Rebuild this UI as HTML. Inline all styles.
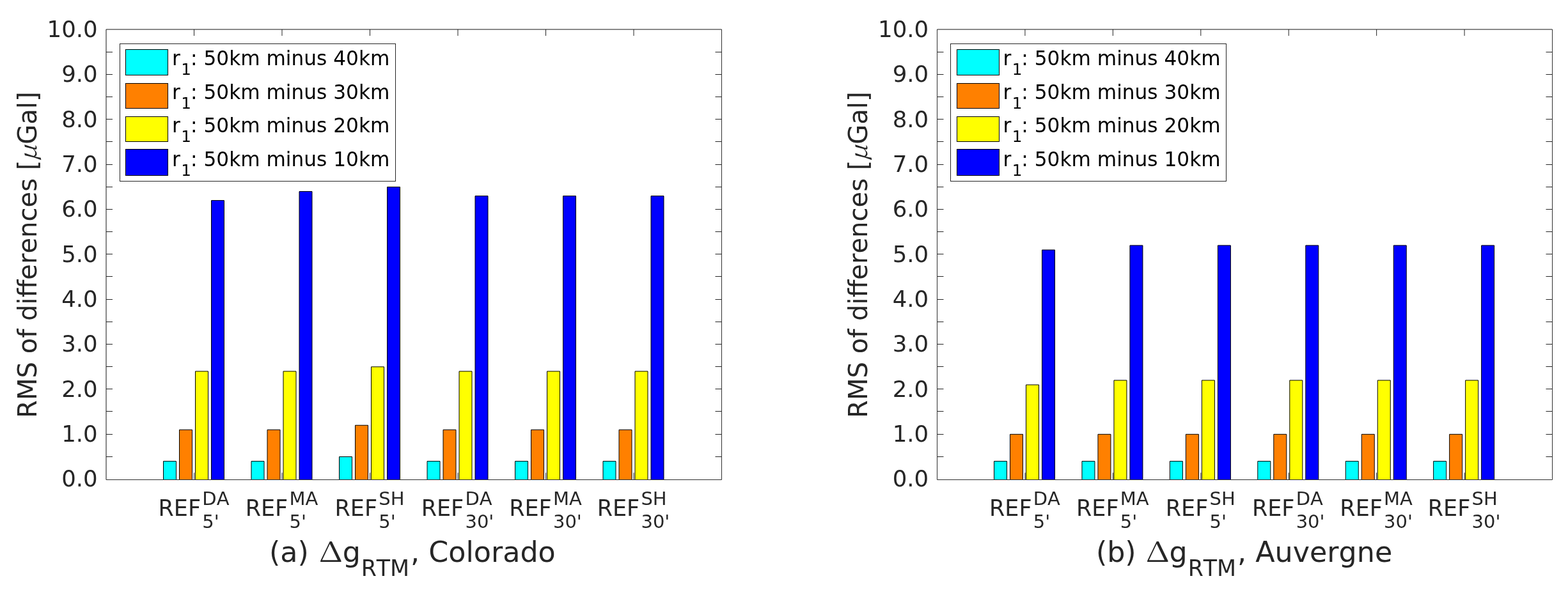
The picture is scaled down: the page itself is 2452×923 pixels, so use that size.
<!DOCTYPE html>
<html><head><meta charset="utf-8"><title>RMS of differences</title><style>
html,body{margin:0;padding:0;background:#fff;}
svg{display:block;}
text{font-kerning:none;white-space:pre;}
</style></head><body>
<svg width="2452" height="923" viewBox="0 0 2452 923">
<rect width="2452" height="923" fill="#fff"/>
<rect x="255.50" y="721.56" width="20" height="28.94" fill="#00ffff"/>
<path d="M255.50 750.50V721.56H275.50V750.50" fill="none" stroke="#000" stroke-width="1"/>
<rect x="393.00" y="721.56" width="20" height="28.94" fill="#00ffff"/>
<path d="M393.00 750.50V721.56H413.00V750.50" fill="none" stroke="#000" stroke-width="1"/>
<rect x="530.50" y="714.53" width="20" height="35.97" fill="#00ffff"/>
<path d="M530.50 750.50V714.53H550.50V750.50" fill="none" stroke="#000" stroke-width="1"/>
<rect x="668.00" y="721.56" width="20" height="28.94" fill="#00ffff"/>
<path d="M668.00 750.50V721.56H688.00V750.50" fill="none" stroke="#000" stroke-width="1"/>
<rect x="805.50" y="721.56" width="20" height="28.94" fill="#00ffff"/>
<path d="M805.50 750.50V721.56H825.50V750.50" fill="none" stroke="#000" stroke-width="1"/>
<rect x="943.00" y="721.56" width="20" height="28.94" fill="#00ffff"/>
<path d="M943.00 750.50V721.56H963.00V750.50" fill="none" stroke="#000" stroke-width="1"/>
<rect x="280.50" y="672.33" width="20" height="78.17" fill="#ff8000"/>
<path d="M280.50 750.50V672.33H300.50V750.50" fill="none" stroke="#000" stroke-width="1"/>
<rect x="418.00" y="672.33" width="20" height="78.17" fill="#ff8000"/>
<path d="M418.00 750.50V672.33H438.00V750.50" fill="none" stroke="#000" stroke-width="1"/>
<rect x="555.50" y="665.29" width="20" height="85.21" fill="#ff8000"/>
<path d="M555.50 750.50V665.29H575.50V750.50" fill="none" stroke="#000" stroke-width="1"/>
<rect x="693.00" y="672.33" width="20" height="78.17" fill="#ff8000"/>
<path d="M693.00 750.50V672.33H713.00V750.50" fill="none" stroke="#000" stroke-width="1"/>
<rect x="830.50" y="672.33" width="20" height="78.17" fill="#ff8000"/>
<path d="M830.50 750.50V672.33H850.50V750.50" fill="none" stroke="#000" stroke-width="1"/>
<rect x="968.00" y="672.33" width="20" height="78.17" fill="#ff8000"/>
<path d="M968.00 750.50V672.33H988.00V750.50" fill="none" stroke="#000" stroke-width="1"/>
<rect x="305.50" y="580.88" width="20" height="169.62" fill="#ffff00"/>
<path d="M305.50 750.50V580.88H325.50V750.50" fill="none" stroke="#000" stroke-width="1"/>
<rect x="443.00" y="580.88" width="20" height="169.62" fill="#ffff00"/>
<path d="M443.00 750.50V580.88H463.00V750.50" fill="none" stroke="#000" stroke-width="1"/>
<rect x="580.50" y="573.85" width="20" height="176.65" fill="#ffff00"/>
<path d="M580.50 750.50V573.85H600.50V750.50" fill="none" stroke="#000" stroke-width="1"/>
<rect x="718.00" y="580.88" width="20" height="169.62" fill="#ffff00"/>
<path d="M718.00 750.50V580.88H738.00V750.50" fill="none" stroke="#000" stroke-width="1"/>
<rect x="855.50" y="580.88" width="20" height="169.62" fill="#ffff00"/>
<path d="M855.50 750.50V580.88H875.50V750.50" fill="none" stroke="#000" stroke-width="1"/>
<rect x="993.00" y="580.88" width="20" height="169.62" fill="#ffff00"/>
<path d="M993.00 750.50V580.88H1013.00V750.50" fill="none" stroke="#000" stroke-width="1"/>
<rect x="330.50" y="313.59" width="20" height="436.91" fill="#0000ff"/>
<path d="M330.50 750.50V313.59H350.50V750.50" fill="none" stroke="#000" stroke-width="1"/>
<rect x="468.00" y="299.52" width="20" height="450.98" fill="#0000ff"/>
<path d="M468.00 750.50V299.52H488.00V750.50" fill="none" stroke="#000" stroke-width="1"/>
<rect x="605.50" y="292.49" width="20" height="458.01" fill="#0000ff"/>
<path d="M605.50 750.50V292.49H625.50V750.50" fill="none" stroke="#000" stroke-width="1"/>
<rect x="743.00" y="306.56" width="20" height="443.94" fill="#0000ff"/>
<path d="M743.00 750.50V306.56H763.00V750.50" fill="none" stroke="#000" stroke-width="1"/>
<rect x="880.50" y="306.56" width="20" height="443.94" fill="#0000ff"/>
<path d="M880.50 750.50V306.56H900.50V750.50" fill="none" stroke="#000" stroke-width="1"/>
<rect x="1018.00" y="306.56" width="20" height="443.94" fill="#0000ff"/>
<path d="M1018.00 750.50V306.56H1038.00V750.50" fill="none" stroke="#000" stroke-width="1"/>
<path d="M166.00 714.50h10M1128.50 714.50h-10M166.00 679.50h10M1128.50 679.50h-10M166.00 643.50h10M1128.50 643.50h-10M166.00 608.50h10M1128.50 608.50h-10M166.00 573.50h10M1128.50 573.50h-10M166.00 538.50h10M1128.50 538.50h-10M166.00 503.50h10M1128.50 503.50h-10M166.00 468.50h10M1128.50 468.50h-10M166.00 432.50h10M1128.50 432.50h-10M166.00 397.50h10M1128.50 397.50h-10M166.00 362.50h10M1128.50 362.50h-10M166.00 327.50h10M1128.50 327.50h-10M166.00 292.50h10M1128.50 292.50h-10M166.00 257.50h10M1128.50 257.50h-10M166.00 221.50h10M1128.50 221.50h-10M166.00 186.50h10M1128.50 186.50h-10M166.00 151.50h10M1128.50 151.50h-10M166.00 116.50h10M1128.50 116.50h-10M166.00 81.50h10M1128.50 81.50h-10M303.50 750.50v-11M303.50 46.00v10M441.00 750.50v-11M441.00 46.00v10M578.50 750.50v-11M578.50 46.00v10M716.00 750.50v-11M716.00 46.00v10M853.50 750.50v-11M853.50 46.00v10M991.00 750.50v-11M991.00 46.00v10" stroke="#262626" stroke-width="1" fill="none"/>
<path d="M166.0 750.5V46.0" stroke="#141414" stroke-width="1" fill="none"/>
<path d="M166.0 46.0H1128.5" stroke="#141414" stroke-width="1" fill="none"/>
<path d="M1128.5 46.0V750.5H166.0" stroke="#303030" stroke-width="1" fill="none"/>
<text x="152.75" y="761.00" font-size="35.6" fill="#262626" font-family="'DejaVu Sans', 'Liberation Sans', sans-serif" text-anchor="end">0.0</text>
<text x="152.75" y="691.00" font-size="35.6" fill="#262626" font-family="'DejaVu Sans', 'Liberation Sans', sans-serif" text-anchor="end">1.0</text>
<text x="152.75" y="621.00" font-size="35.6" fill="#262626" font-family="'DejaVu Sans', 'Liberation Sans', sans-serif" text-anchor="end">2.0</text>
<text x="152.75" y="550.00" font-size="35.6" fill="#262626" font-family="'DejaVu Sans', 'Liberation Sans', sans-serif" text-anchor="end">3.0</text>
<text x="152.75" y="480.00" font-size="35.6" fill="#262626" font-family="'DejaVu Sans', 'Liberation Sans', sans-serif" text-anchor="end">4.0</text>
<text x="152.75" y="410.00" font-size="35.6" fill="#262626" font-family="'DejaVu Sans', 'Liberation Sans', sans-serif" text-anchor="end">5.0</text>
<text x="152.75" y="339.00" font-size="35.6" fill="#262626" font-family="'DejaVu Sans', 'Liberation Sans', sans-serif" text-anchor="end">6.0</text>
<text x="152.75" y="269.00" font-size="35.6" fill="#262626" font-family="'DejaVu Sans', 'Liberation Sans', sans-serif" text-anchor="end">7.0</text>
<text x="152.75" y="199.00" font-size="35.6" fill="#262626" font-family="'DejaVu Sans', 'Liberation Sans', sans-serif" text-anchor="end">8.0</text>
<text x="152.75" y="128.00" font-size="35.6" fill="#262626" font-family="'DejaVu Sans', 'Liberation Sans', sans-serif" text-anchor="end">9.0</text>
<text x="152.75" y="58.00" font-size="35.6" fill="#262626" font-family="'DejaVu Sans', 'Liberation Sans', sans-serif" text-anchor="end">10.0</text>
<text x="247.53" y="807.30" font-size="35" fill="#262626" font-family="'DejaVu Sans', 'Liberation Sans', sans-serif" >REF</text>
<text x="316.30" y="790.10" font-size="29" fill="#262626" font-family="'DejaVu Sans', 'Liberation Sans', sans-serif" >DA</text>
<text x="316.30" y="826.00" font-size="29" fill="#262626" font-family="'DejaVu Sans', 'Liberation Sans', sans-serif" >5&#39;</text>
<text x="383.69" y="807.30" font-size="35" fill="#262626" font-family="'DejaVu Sans', 'Liberation Sans', sans-serif" >REF</text>
<text x="452.45" y="790.10" font-size="29" fill="#262626" font-family="'DejaVu Sans', 'Liberation Sans', sans-serif" >MA</text>
<text x="452.45" y="826.00" font-size="29" fill="#262626" font-family="'DejaVu Sans', 'Liberation Sans', sans-serif" >5&#39;</text>
<text x="523.51" y="807.30" font-size="35" fill="#262626" font-family="'DejaVu Sans', 'Liberation Sans', sans-serif" >REF</text>
<text x="592.28" y="790.10" font-size="29" fill="#262626" font-family="'DejaVu Sans', 'Liberation Sans', sans-serif" >SH</text>
<text x="592.28" y="826.00" font-size="29" fill="#262626" font-family="'DejaVu Sans', 'Liberation Sans', sans-serif" >5&#39;</text>
<text x="658.68" y="807.30" font-size="35" fill="#262626" font-family="'DejaVu Sans', 'Liberation Sans', sans-serif" >REF</text>
<text x="727.45" y="790.10" font-size="29" fill="#262626" font-family="'DejaVu Sans', 'Liberation Sans', sans-serif" >DA</text>
<text x="727.45" y="826.00" font-size="29" fill="#262626" font-family="'DejaVu Sans', 'Liberation Sans', sans-serif" >30&#39;</text>
<text x="796.18" y="807.30" font-size="35" fill="#262626" font-family="'DejaVu Sans', 'Liberation Sans', sans-serif" >REF</text>
<text x="864.95" y="790.10" font-size="29" fill="#262626" font-family="'DejaVu Sans', 'Liberation Sans', sans-serif" >MA</text>
<text x="864.95" y="826.00" font-size="29" fill="#262626" font-family="'DejaVu Sans', 'Liberation Sans', sans-serif" >30&#39;</text>
<text x="933.68" y="807.30" font-size="35" fill="#262626" font-family="'DejaVu Sans', 'Liberation Sans', sans-serif" >REF</text>
<text x="1002.45" y="790.10" font-size="29" fill="#262626" font-family="'DejaVu Sans', 'Liberation Sans', sans-serif" >SH</text>
<text x="1002.45" y="826.00" font-size="29" fill="#262626" font-family="'DejaVu Sans', 'Liberation Sans', sans-serif" >30&#39;</text>
<g transform="translate(56.90,653.88) rotate(-90)">
<text x="0.00" y="0.00" font-size="40.1" fill="#262626" font-family="'DejaVu Sans', 'Liberation Sans', sans-serif" >RMS of differences [</text>
<text x="0.00" y="0.00" font-size="35.5" fill="#262626" font-family="'Noto Serif CJK SC', 'Liberation Serif', serif" font-style="italic" transform="translate(401.63,0) scale(1.13,1)">μ</text>
<text x="428.03" y="0.00" font-size="40.1" fill="#262626" font-family="'DejaVu Sans', 'Liberation Sans', sans-serif" >Gal]</text>
</g>
<text x="420.93" y="878.60" font-size="44.4" fill="#262626" font-family="'DejaVu Sans', 'Liberation Sans', sans-serif" >(a) </text>
<text x="398.84" y="878.60" font-size="44.0" fill="#262626" font-family="'Noto Serif CJK SC', 'Liberation Serif', serif" transform="scale(1.25,1)">Δ</text>
<text x="535.66" y="878.60" font-size="44.4" fill="#262626" font-family="'DejaVu Sans', 'Liberation Sans', sans-serif" >g</text>
<text x="564.69" y="901.20" font-size="34.8" fill="#262626" font-family="'DejaVu Sans', 'Liberation Sans', sans-serif" >RTM</text>
<text x="642.07" y="878.60" font-size="44.4" fill="#262626" font-family="'DejaVu Sans', 'Liberation Sans', sans-serif" >, Colorado</text>
<rect x="187.5" y="68.5" width="431.0" height="215.0" fill="#fff" stroke="#262626" stroke-width="1"/>
<rect x="196.5" y="77.5" width="66" height="40.0" fill="#00ffff" stroke="#000" stroke-width="1"/>
<text x="269.10" y="102.00" font-size="31.2" fill="#000" font-family="'DejaVu Sans', 'Liberation Sans', sans-serif" >r</text>
<text x="283.33" y="117.00" font-size="24.7" fill="#000" font-family="'DejaVu Sans', 'Liberation Sans', sans-serif" >1</text>
<text x="298.04" y="102.00" font-size="31.2" fill="#000" font-family="'DejaVu Sans', 'Liberation Sans', sans-serif" >: 50km minus 40km</text>
<rect x="196.5" y="130.5" width="66" height="39.0" fill="#ff8000" stroke="#000" stroke-width="1"/>
<text x="269.10" y="154.50" font-size="31.2" fill="#000" font-family="'DejaVu Sans', 'Liberation Sans', sans-serif" >r</text>
<text x="283.33" y="169.50" font-size="24.7" fill="#000" font-family="'DejaVu Sans', 'Liberation Sans', sans-serif" >1</text>
<text x="298.04" y="154.50" font-size="31.2" fill="#000" font-family="'DejaVu Sans', 'Liberation Sans', sans-serif" >: 50km minus 30km</text>
<rect x="196.5" y="182.5" width="66" height="39.0" fill="#ffff00" stroke="#000" stroke-width="1"/>
<text x="269.10" y="207.00" font-size="31.2" fill="#000" font-family="'DejaVu Sans', 'Liberation Sans', sans-serif" >r</text>
<text x="283.33" y="222.00" font-size="24.7" fill="#000" font-family="'DejaVu Sans', 'Liberation Sans', sans-serif" >1</text>
<text x="298.04" y="207.00" font-size="31.2" fill="#000" font-family="'DejaVu Sans', 'Liberation Sans', sans-serif" >: 50km minus 20km</text>
<rect x="196.5" y="233.5" width="66" height="41.0" fill="#0000ff" stroke="#000" stroke-width="1"/>
<text x="269.10" y="259.50" font-size="31.2" fill="#000" font-family="'DejaVu Sans', 'Liberation Sans', sans-serif" >r</text>
<text x="283.33" y="274.50" font-size="24.7" fill="#000" font-family="'DejaVu Sans', 'Liberation Sans', sans-serif" >1</text>
<text x="298.04" y="259.50" font-size="31.2" fill="#000" font-family="'DejaVu Sans', 'Liberation Sans', sans-serif" >: 50km minus 10km</text>
<rect x="1554.53" y="721.56" width="20" height="28.94" fill="#00ffff"/>
<path d="M1554.53 750.50V721.56H1574.53V750.50" fill="none" stroke="#000" stroke-width="1"/>
<rect x="1691.96" y="721.56" width="20" height="28.94" fill="#00ffff"/>
<path d="M1691.96 750.50V721.56H1711.96V750.50" fill="none" stroke="#000" stroke-width="1"/>
<rect x="1829.39" y="721.56" width="20" height="28.94" fill="#00ffff"/>
<path d="M1829.39 750.50V721.56H1849.39V750.50" fill="none" stroke="#000" stroke-width="1"/>
<rect x="1966.81" y="721.56" width="20" height="28.94" fill="#00ffff"/>
<path d="M1966.81 750.50V721.56H1986.81V750.50" fill="none" stroke="#000" stroke-width="1"/>
<rect x="2104.24" y="721.56" width="20" height="28.94" fill="#00ffff"/>
<path d="M2104.24 750.50V721.56H2124.24V750.50" fill="none" stroke="#000" stroke-width="1"/>
<rect x="2241.67" y="721.56" width="20" height="28.94" fill="#00ffff"/>
<path d="M2241.67 750.50V721.56H2261.67V750.50" fill="none" stroke="#000" stroke-width="1"/>
<rect x="1579.53" y="679.36" width="20" height="71.14" fill="#ff8000"/>
<path d="M1579.53 750.50V679.36H1599.53V750.50" fill="none" stroke="#000" stroke-width="1"/>
<rect x="1716.96" y="679.36" width="20" height="71.14" fill="#ff8000"/>
<path d="M1716.96 750.50V679.36H1736.96V750.50" fill="none" stroke="#000" stroke-width="1"/>
<rect x="1854.39" y="679.36" width="20" height="71.14" fill="#ff8000"/>
<path d="M1854.39 750.50V679.36H1874.39V750.50" fill="none" stroke="#000" stroke-width="1"/>
<rect x="1991.81" y="679.36" width="20" height="71.14" fill="#ff8000"/>
<path d="M1991.81 750.50V679.36H2011.81V750.50" fill="none" stroke="#000" stroke-width="1"/>
<rect x="2129.24" y="679.36" width="20" height="71.14" fill="#ff8000"/>
<path d="M2129.24 750.50V679.36H2149.24V750.50" fill="none" stroke="#000" stroke-width="1"/>
<rect x="2266.67" y="679.36" width="20" height="71.14" fill="#ff8000"/>
<path d="M2266.67 750.50V679.36H2286.67V750.50" fill="none" stroke="#000" stroke-width="1"/>
<rect x="1604.53" y="601.99" width="20" height="148.51" fill="#ffff00"/>
<path d="M1604.53 750.50V601.99H1624.53V750.50" fill="none" stroke="#000" stroke-width="1"/>
<rect x="1741.96" y="594.95" width="20" height="155.55" fill="#ffff00"/>
<path d="M1741.96 750.50V594.95H1761.96V750.50" fill="none" stroke="#000" stroke-width="1"/>
<rect x="1879.39" y="594.95" width="20" height="155.55" fill="#ffff00"/>
<path d="M1879.39 750.50V594.95H1899.39V750.50" fill="none" stroke="#000" stroke-width="1"/>
<rect x="2016.81" y="594.95" width="20" height="155.55" fill="#ffff00"/>
<path d="M2016.81 750.50V594.95H2036.81V750.50" fill="none" stroke="#000" stroke-width="1"/>
<rect x="2154.24" y="594.95" width="20" height="155.55" fill="#ffff00"/>
<path d="M2154.24 750.50V594.95H2174.24V750.50" fill="none" stroke="#000" stroke-width="1"/>
<rect x="2291.67" y="594.95" width="20" height="155.55" fill="#ffff00"/>
<path d="M2291.67 750.50V594.95H2311.67V750.50" fill="none" stroke="#000" stroke-width="1"/>
<rect x="1629.53" y="390.97" width="20" height="359.53" fill="#0000ff"/>
<path d="M1629.53 750.50V390.97H1649.53V750.50" fill="none" stroke="#000" stroke-width="1"/>
<rect x="1766.96" y="383.93" width="20" height="366.57" fill="#0000ff"/>
<path d="M1766.96 750.50V383.93H1786.96V750.50" fill="none" stroke="#000" stroke-width="1"/>
<rect x="1904.39" y="383.93" width="20" height="366.57" fill="#0000ff"/>
<path d="M1904.39 750.50V383.93H1924.39V750.50" fill="none" stroke="#000" stroke-width="1"/>
<rect x="2041.81" y="383.93" width="20" height="366.57" fill="#0000ff"/>
<path d="M2041.81 750.50V383.93H2061.81V750.50" fill="none" stroke="#000" stroke-width="1"/>
<rect x="2179.24" y="383.93" width="20" height="366.57" fill="#0000ff"/>
<path d="M2179.24 750.50V383.93H2199.24V750.50" fill="none" stroke="#000" stroke-width="1"/>
<rect x="2316.67" y="383.93" width="20" height="366.57" fill="#0000ff"/>
<path d="M2316.67 750.50V383.93H2336.67V750.50" fill="none" stroke="#000" stroke-width="1"/>
<path d="M1465.50 714.50h10M2427.50 714.50h-10M1465.50 679.50h10M2427.50 679.50h-10M1465.50 643.50h10M2427.50 643.50h-10M1465.50 608.50h10M2427.50 608.50h-10M1465.50 573.50h10M2427.50 573.50h-10M1465.50 538.50h10M2427.50 538.50h-10M1465.50 503.50h10M2427.50 503.50h-10M1465.50 468.50h10M2427.50 468.50h-10M1465.50 432.50h10M2427.50 432.50h-10M1465.50 397.50h10M2427.50 397.50h-10M1465.50 362.50h10M2427.50 362.50h-10M1465.50 327.50h10M2427.50 327.50h-10M1465.50 292.50h10M2427.50 292.50h-10M1465.50 257.50h10M2427.50 257.50h-10M1465.50 221.50h10M2427.50 221.50h-10M1465.50 186.50h10M2427.50 186.50h-10M1465.50 151.50h10M2427.50 151.50h-10M1465.50 116.50h10M2427.50 116.50h-10M1465.50 81.50h10M2427.50 81.50h-10M1602.93 750.50v-11M1602.93 46.00v10M1740.36 750.50v-11M1740.36 46.00v10M1877.79 750.50v-11M1877.79 46.00v10M2015.21 750.50v-11M2015.21 46.00v10M2152.64 750.50v-11M2152.64 46.00v10M2290.07 750.50v-11M2290.07 46.00v10" stroke="#262626" stroke-width="1" fill="none"/>
<path d="M1465.5 750.5V46.0" stroke="#303030" stroke-width="1" fill="none"/>
<path d="M1465.5 46.0H2427.5" stroke="#141414" stroke-width="1" fill="none"/>
<path d="M2427.5 46.0V750.5H1465.5" stroke="#303030" stroke-width="1" fill="none"/>
<text x="1452.25" y="761.00" font-size="35.6" fill="#262626" font-family="'DejaVu Sans', 'Liberation Sans', sans-serif" text-anchor="end">0.0</text>
<text x="1452.25" y="691.00" font-size="35.6" fill="#262626" font-family="'DejaVu Sans', 'Liberation Sans', sans-serif" text-anchor="end">1.0</text>
<text x="1452.25" y="621.00" font-size="35.6" fill="#262626" font-family="'DejaVu Sans', 'Liberation Sans', sans-serif" text-anchor="end">2.0</text>
<text x="1452.25" y="550.00" font-size="35.6" fill="#262626" font-family="'DejaVu Sans', 'Liberation Sans', sans-serif" text-anchor="end">3.0</text>
<text x="1452.25" y="480.00" font-size="35.6" fill="#262626" font-family="'DejaVu Sans', 'Liberation Sans', sans-serif" text-anchor="end">4.0</text>
<text x="1452.25" y="410.00" font-size="35.6" fill="#262626" font-family="'DejaVu Sans', 'Liberation Sans', sans-serif" text-anchor="end">5.0</text>
<text x="1452.25" y="339.00" font-size="35.6" fill="#262626" font-family="'DejaVu Sans', 'Liberation Sans', sans-serif" text-anchor="end">6.0</text>
<text x="1452.25" y="269.00" font-size="35.6" fill="#262626" font-family="'DejaVu Sans', 'Liberation Sans', sans-serif" text-anchor="end">7.0</text>
<text x="1452.25" y="199.00" font-size="35.6" fill="#262626" font-family="'DejaVu Sans', 'Liberation Sans', sans-serif" text-anchor="end">8.0</text>
<text x="1452.25" y="128.00" font-size="35.6" fill="#262626" font-family="'DejaVu Sans', 'Liberation Sans', sans-serif" text-anchor="end">9.0</text>
<text x="1452.25" y="58.00" font-size="35.6" fill="#262626" font-family="'DejaVu Sans', 'Liberation Sans', sans-serif" text-anchor="end">10.0</text>
<text x="1546.96" y="807.30" font-size="35" fill="#262626" font-family="'DejaVu Sans', 'Liberation Sans', sans-serif" >REF</text>
<text x="1615.73" y="790.10" font-size="29" fill="#262626" font-family="'DejaVu Sans', 'Liberation Sans', sans-serif" >DA</text>
<text x="1615.73" y="826.00" font-size="29" fill="#262626" font-family="'DejaVu Sans', 'Liberation Sans', sans-serif" >5&#39;</text>
<text x="1683.04" y="807.30" font-size="35" fill="#262626" font-family="'DejaVu Sans', 'Liberation Sans', sans-serif" >REF</text>
<text x="1751.81" y="790.10" font-size="29" fill="#262626" font-family="'DejaVu Sans', 'Liberation Sans', sans-serif" >MA</text>
<text x="1751.81" y="826.00" font-size="29" fill="#262626" font-family="'DejaVu Sans', 'Liberation Sans', sans-serif" >5&#39;</text>
<text x="1822.80" y="807.30" font-size="35" fill="#262626" font-family="'DejaVu Sans', 'Liberation Sans', sans-serif" >REF</text>
<text x="1891.56" y="790.10" font-size="29" fill="#262626" font-family="'DejaVu Sans', 'Liberation Sans', sans-serif" >SH</text>
<text x="1891.56" y="826.00" font-size="29" fill="#262626" font-family="'DejaVu Sans', 'Liberation Sans', sans-serif" >5&#39;</text>
<text x="1957.90" y="807.30" font-size="35" fill="#262626" font-family="'DejaVu Sans', 'Liberation Sans', sans-serif" >REF</text>
<text x="2026.66" y="790.10" font-size="29" fill="#262626" font-family="'DejaVu Sans', 'Liberation Sans', sans-serif" >DA</text>
<text x="2026.66" y="826.00" font-size="29" fill="#262626" font-family="'DejaVu Sans', 'Liberation Sans', sans-serif" >30&#39;</text>
<text x="2095.32" y="807.30" font-size="35" fill="#262626" font-family="'DejaVu Sans', 'Liberation Sans', sans-serif" >REF</text>
<text x="2164.09" y="790.10" font-size="29" fill="#262626" font-family="'DejaVu Sans', 'Liberation Sans', sans-serif" >MA</text>
<text x="2164.09" y="826.00" font-size="29" fill="#262626" font-family="'DejaVu Sans', 'Liberation Sans', sans-serif" >30&#39;</text>
<text x="2232.75" y="807.30" font-size="35" fill="#262626" font-family="'DejaVu Sans', 'Liberation Sans', sans-serif" >REF</text>
<text x="2301.52" y="790.10" font-size="29" fill="#262626" font-family="'DejaVu Sans', 'Liberation Sans', sans-serif" >SH</text>
<text x="2301.52" y="826.00" font-size="29" fill="#262626" font-family="'DejaVu Sans', 'Liberation Sans', sans-serif" >30&#39;</text>
<g transform="translate(1356.40,653.88) rotate(-90)">
<text x="0.00" y="0.00" font-size="40.1" fill="#262626" font-family="'DejaVu Sans', 'Liberation Sans', sans-serif" >RMS of differences [</text>
<text x="0.00" y="0.00" font-size="35.5" fill="#262626" font-family="'Noto Serif CJK SC', 'Liberation Serif', serif" font-style="italic" transform="translate(401.63,0) scale(1.13,1)">μ</text>
<text x="428.03" y="0.00" font-size="40.1" fill="#262626" font-family="'DejaVu Sans', 'Liberation Sans', sans-serif" >Gal]</text>
</g>
<text x="1713.88" y="878.60" font-size="44.4" fill="#262626" font-family="'DejaVu Sans', 'Liberation Sans', sans-serif" >(b) </text>
<text x="1433.20" y="878.60" font-size="44.0" fill="#262626" font-family="'Noto Serif CJK SC', 'Liberation Serif', serif" transform="scale(1.25,1)">Δ</text>
<text x="1828.61" y="878.60" font-size="44.4" fill="#262626" font-family="'DejaVu Sans', 'Liberation Sans', sans-serif" >g</text>
<text x="1857.64" y="901.20" font-size="34.8" fill="#262626" font-family="'DejaVu Sans', 'Liberation Sans', sans-serif" >RTM</text>
<text x="1935.02" y="878.60" font-size="44.4" fill="#262626" font-family="'DejaVu Sans', 'Liberation Sans', sans-serif" >, Auvergne</text>
<rect x="1486.5" y="68.5" width="431.0" height="215.0" fill="#fff" stroke="#262626" stroke-width="1"/>
<rect x="1496.5" y="77.5" width="66" height="40.0" fill="#00ffff" stroke="#000" stroke-width="1"/>
<text x="1568.40" y="102.00" font-size="31.2" fill="#000" font-family="'DejaVu Sans', 'Liberation Sans', sans-serif" >r</text>
<text x="1582.63" y="117.00" font-size="24.7" fill="#000" font-family="'DejaVu Sans', 'Liberation Sans', sans-serif" >1</text>
<text x="1597.34" y="102.00" font-size="31.2" fill="#000" font-family="'DejaVu Sans', 'Liberation Sans', sans-serif" >: 50km minus 40km</text>
<rect x="1496.5" y="130.5" width="66" height="39.0" fill="#ff8000" stroke="#000" stroke-width="1"/>
<text x="1568.40" y="154.50" font-size="31.2" fill="#000" font-family="'DejaVu Sans', 'Liberation Sans', sans-serif" >r</text>
<text x="1582.63" y="169.50" font-size="24.7" fill="#000" font-family="'DejaVu Sans', 'Liberation Sans', sans-serif" >1</text>
<text x="1597.34" y="154.50" font-size="31.2" fill="#000" font-family="'DejaVu Sans', 'Liberation Sans', sans-serif" >: 50km minus 30km</text>
<rect x="1496.5" y="182.5" width="66" height="39.0" fill="#ffff00" stroke="#000" stroke-width="1"/>
<text x="1568.40" y="207.00" font-size="31.2" fill="#000" font-family="'DejaVu Sans', 'Liberation Sans', sans-serif" >r</text>
<text x="1582.63" y="222.00" font-size="24.7" fill="#000" font-family="'DejaVu Sans', 'Liberation Sans', sans-serif" >1</text>
<text x="1597.34" y="207.00" font-size="31.2" fill="#000" font-family="'DejaVu Sans', 'Liberation Sans', sans-serif" >: 50km minus 20km</text>
<rect x="1496.5" y="233.5" width="66" height="41.0" fill="#0000ff" stroke="#000" stroke-width="1"/>
<text x="1568.40" y="259.50" font-size="31.2" fill="#000" font-family="'DejaVu Sans', 'Liberation Sans', sans-serif" >r</text>
<text x="1582.63" y="274.50" font-size="24.7" fill="#000" font-family="'DejaVu Sans', 'Liberation Sans', sans-serif" >1</text>
<text x="1597.34" y="259.50" font-size="31.2" fill="#000" font-family="'DejaVu Sans', 'Liberation Sans', sans-serif" >: 50km minus 10km</text>
</svg>
</body></html>
